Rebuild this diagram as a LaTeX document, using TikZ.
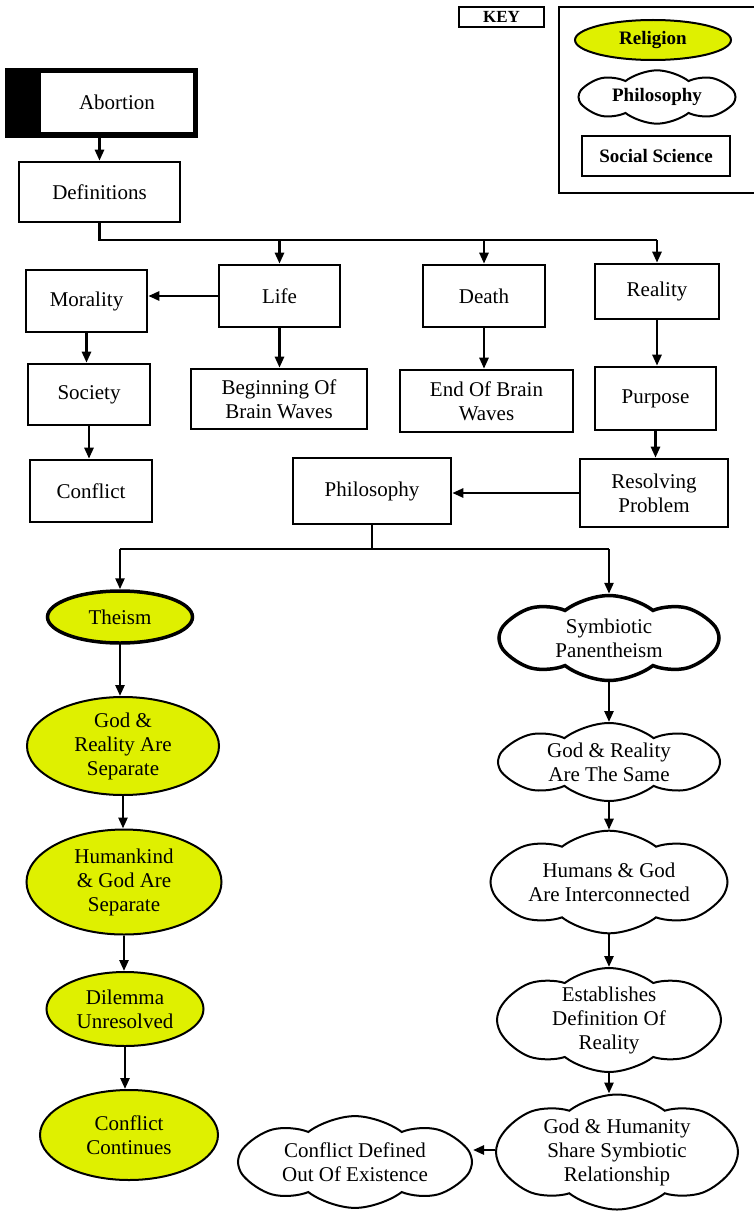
\documentclass[tikz,border=0pt]{standalone}
\usepackage{fontspec}
\setmainfont{Liberation Serif}
\usetikzlibrary{arrows.meta,positioning,shapes.geometric,shapes.symbols}
\definecolor{relfill}{HTML}{DFF000}
\tikzset{
  box/.style={draw=black,fill=white,line width=2.6pt,align=center,inner sep=1pt,
    font=\fontsize{21}{24}\selectfont},
  relg/.style={ellipse,draw=black,fill=relfill,line width=2pt,align=center,inner sep=0pt,
    font=\fontsize{21}{24}\selectfont},
  phil/.style={cloud,cloud puffs=8,cloud puff arc=75,aspect=2.6,draw=black,fill=white,
    line width=2pt,align=center,inner sep=-6pt,font=\fontsize{21}{24}\selectfont},
  keytxt/.style={font=\bfseries\fontsize{19}{22}\selectfont},
  ln/.style={line width=2.5pt,color=black},
  flow/.style={ln,-{Triangle[length=11pt,width=9pt]}}
}
\begin{document}
\begin{tikzpicture}[x=1pt,y=-1pt]
  \useasboundingbox[fill=white] (0,0) rectangle (754,1220);
  % key
  \node[draw,line width=1.4pt,minimum width=85,minimum height=20,inner sep=0pt,
    font=\bfseries\fontsize{17}{20}\selectfont] (key) at (501.5,17) {KEY};
  \node[draw,line width=1.4pt,minimum width=197,minimum height=186] (keyfr) at (657.5,100) {};
  \node[relg,keytxt,minimum width=156,minimum height=40] (krel) at (653,40) {Religion};
  \node[phil,keytxt,minimum width=157,minimum height=52] (kphil) at (657,97) {Philosophy};
  \node[box,keytxt,minimum width=148,minimum height=40] (ksoc) at (656,156) {Social Science};
  % social science column
  \node[fill=black,minimum width=193,minimum height=70,inner sep=0pt] (abortfr) at (101.5,103) {};
  \node[box,draw=none,minimum width=152,minimum height=59] (abort) at (117,102.5) {Abortion};
  \node[box,minimum width=161,minimum height=60] (defs) at (99.5,192) {Definitions};
  \node[box,minimum width=121,minimum height=62] (life) at (279.5,296) {Life};
  \node[box,minimum width=122,minimum height=62] (death) at (484,296) {Death};
  \node[box,minimum width=124,minimum height=55] (real) at (657,291.5) {Reality};
  \node[box,minimum width=121,minimum height=62] (moral) at (86.5,301) {Morality};
  \node[box,minimum width=122,minimum height=61] (soc) at (89,394.5) {Society};
  \node[box,minimum width=122,minimum height=62] (confl) at (91,491) {Conflict};
  \node[box,minimum width=176,minimum height=60] (begin) at (279,399) {Beginning Of\\Brain Waves};
  \node[box,minimum width=173,minimum height=62] (end) at (486.5,401) {End Of Brain\\Waves};
  \node[box,minimum width=121,minimum height=63] (purp) at (655.5,398.5) {Purpose};
  \node[box,minimum width=148,minimum height=68] (resol) at (654,493) {Resolving\\Problem};
  \node[box,minimum width=158,minimum height=66] (philbox) at (372,491) {Philosophy};
  % religion column
  \node[relg,line width=3.5pt,minimum width=145,minimum height=52] (theism) at (120,617) {Theism};
  \node[relg,minimum width=192,minimum height=98] (godsep) at (123,746) {God \&\\Reality Are\\Separate};
  \node[relg,minimum width=195,minimum height=105] (humsep) at (124,882) {Humankind\\\& God Are\\Separate};
  \node[relg,minimum width=157,minimum height=74] (dilem) at (125,1009) {Dilemma\\Unresolved};
  \node[relg,minimum width=178,minimum height=90] (contin) at (129,1135) {Conflict\\Continues};
  % philosophy column
  \node[phil,line width=3.5pt,minimum width=220,minimum height=85] (symb) at (609,638) {Symbiotic\\Panentheism};
  \node[phil,minimum width=222,minimum height=78] (same) at (609,762) {God \& Reality\\Are The Same};
  \node[phil,minimum width=237,minimum height=80] (inter) at (609,882) {Humans \& God\\Are Interconnected};
  \node[phil,minimum width=224,minimum height=104] (estab) at (609,1020) {Establishes\\Definition Of\\Reality};
  \node[phil,minimum width=242,minimum height=115] (share) at (617,1152) {God \& Humanity\\Share Symbiotic\\Relationship};
  \node[phil,minimum width=234,minimum height=89] (outex) at (355,1162) {Conflict Defined\\Out Of Existence};
  % connectors
  \draw[flow] (abortfr.south -| defs.north) -- (defs.north);
  \coordinate (j1) at (defs.south |- 0,240);
  \draw[ln] (defs.south) -- (j1) -- (j1 -| real.north);
  \foreach \n in {life,death,real}{\draw[flow] (j1 -| \n.north) -- (\n.north);}
  \draw[flow] (life.west) -- (life.west -| moral.east);
  \draw[flow] (moral.south) -- (moral.south |- soc.north);
  \draw[flow] (soc.south) -- (soc.south |- confl.north);
  \draw[flow] (life.south) -- (life.south |- begin.north);
  \draw[flow] (death.south) -- (death.south |- end.north);
  \draw[flow] (real.south) -- (real.south |- purp.north);
  \draw[flow] (purp.south) -- (purp.south |- resol.north);
  \draw[flow] (resol.west |- 0,493) -- (philbox.east |- 0,493);
  \coordinate (j2) at (philbox.south |- 0,549);
  \draw[ln] (philbox.south) -- (j2);
  \draw[ln] (j2 -| theism.north) -- (j2 -| symb.north);
  \foreach \n in {theism,symb}{\draw[flow] (j2 -| \n.north) -- (\n.north);}
  \foreach \a/\b in {theism/godsep,godsep/humsep,humsep/dilem,dilem/contin,
    symb/same,same/inter,inter/estab}{\draw[flow] (\a.south) -- (\a.south |- \b.north);}
  \draw[flow] (estab.south) -- (estab.south |- share.north);
  \draw[flow] (share.west |- 0,1150) -- (outex.east |- 0,1150);
\end{tikzpicture}
\end{document}
